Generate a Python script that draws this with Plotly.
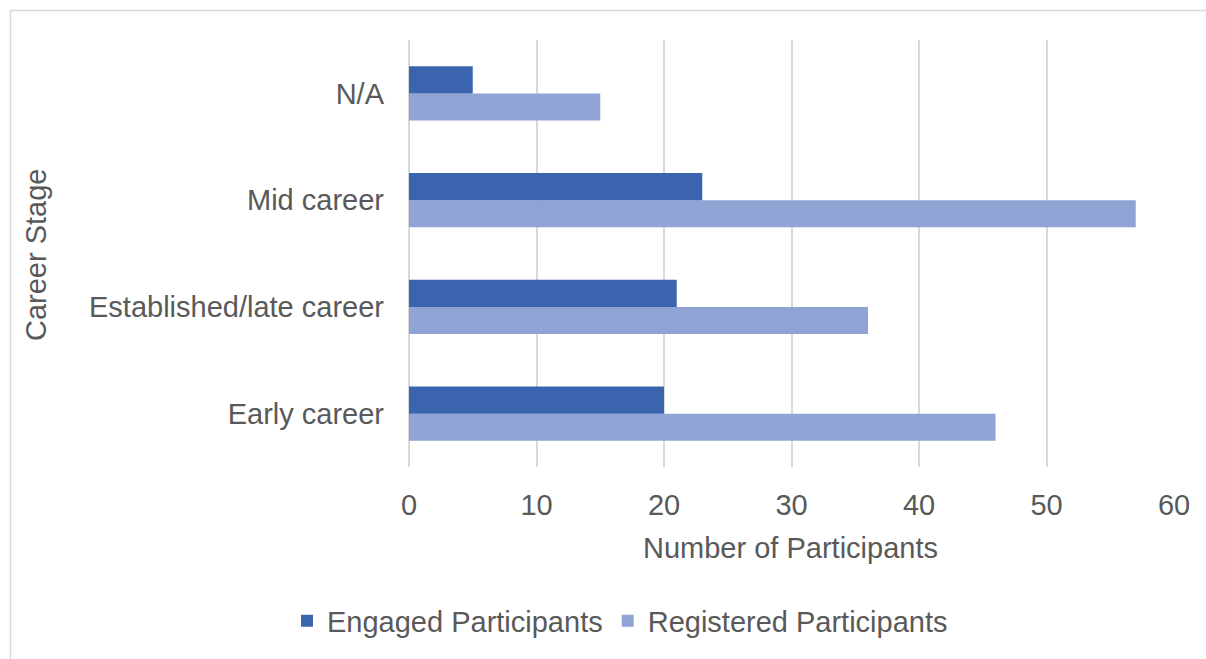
import plotly.graph_objects as go

categories = ["Early career", "Established/late career", "Mid career", "N/A"]
engaged = [20, 21, 23, 5]
registered = [46, 36, 57, 15]
x_ticks = [0, 10, 20, 30, 40, 50, 60]

W, H = 1206, 659
L, R, T, B = 409, 32, 40, 192
pw, ph = W - L - R, H - T - B

def px_x(x):
    return (x - L) / pw

def px_y(y):
    return (H - B - y) / ph

txt = "#595959"
font = "Liberation Sans, Arial, sans-serif"
fs = 29

fig = go.Figure()
fig.add_trace(go.Bar(y=categories, x=registered, orientation="h", name="Registered Participants",
                     marker=dict(color="#8FA3D5", line=dict(width=0)), legendrank=2))
fig.add_trace(go.Bar(y=categories, x=engaged, orientation="h", name="Engaged Participants",
                     marker=dict(color="#3A64AD", line=dict(width=0)), legendrank=1))

fig.update_layout(
    width=W, height=H,
    margin=dict(l=L, r=R, t=T, b=B),
    paper_bgcolor="white", plot_bgcolor="white",
    barmode="group", bargap=0.49, bargroupgap=0,
    font=dict(family=font, color=txt, size=fs),
    showlegend=True,
    legend=dict(orientation="h", x=px_x(620), y=px_y(621), xanchor="center", yanchor="middle",
                font=dict(size=fs, color=txt), traceorder="normal", itemwidth=30,
                bgcolor="rgba(0,0,0,0)"),
    xaxis=dict(range=[0, 60], tickvals=x_ticks, showgrid=True, gridcolor="#D9D9D9", gridwidth=2,
               zeroline=True, zerolinecolor="#D9D9D9", zerolinewidth=2, showline=False,
               ticks="", ticklabelstandoff=18, tickfont=dict(size=fs, color=txt), fixedrange=True),
    yaxis=dict(categoryorder="array", categoryarray=categories, showgrid=False, zeroline=False,
               showline=False, ticks="", ticklabelstandoff=24,
               tickfont=dict(size=fs, color=txt)),
    annotations=[
        dict(text="Number of Participants", xref="paper", yref="paper", x=px_x(790), y=px_y(548),
             xanchor="center", yanchor="middle", showarrow=False, font=dict(size=fs, color=txt)),
        dict(text="Career Stage", xref="paper", yref="paper", x=px_x(36), y=px_y(255),
             xanchor="center", yanchor="middle", showarrow=False, textangle=-90,
             font=dict(size=fs, color=txt)),
    ],
    shapes=[
        dict(type="rect", xref="paper", yref="paper", x0=px_x(10.5), y0=px_y(670), x1=px_x(1215),
             y1=px_y(10.5), line=dict(color="#D9D9D9", width=1.5), fillcolor="rgba(0,0,0,0)",
             layer="below"),
    ],
)

fig.write_html("out.html")
